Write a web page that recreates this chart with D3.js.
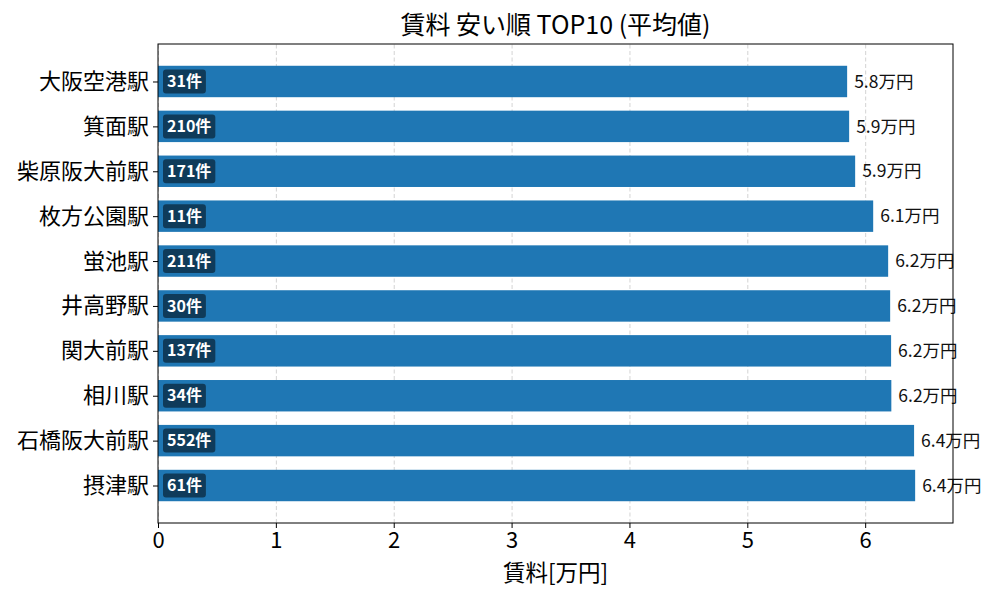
<!DOCTYPE html>
<html>
<head>
<meta charset="utf-8">
<script src="https://cdn.jsdelivr.net/npm/d3@7"></script>
<style>
  body { margin: 0; background: #fff; }
  svg text { font-family: "Noto Sans CJK JP", "Noto Sans", sans-serif; }
</style>
</head>
<body>
<div id="chart"></div>
<script>
// data
var stations = ["大阪空港駅","箕面駅","柴原阪大前駅","枚方公園駅","蛍池駅","井高野駅","関大前駅","相川駅","石橋阪大前駅","摂津駅"];
var rents = [5.847, 5.864, 5.915, 6.068, 6.195, 6.212, 6.220, 6.222, 6.415, 6.424];
var counts = [31, 210, 171, 11, 211, 30, 137, 34, 552, 61];
var xTicks = [0, 1, 2, 3, 4, 5, 6];

var w = 1000, h = 600;
var padL = 158, padR = 953, padT = 44, padB = 523;

var dataset = stations.map(function(s, i) {
    return { name: s, rent: rents[i], count: counts[i], idx: i };
});

var xScale = d3.scaleLinear()
    .domain([0, d3.max(rents) * 1.05])
    .range([padL, padR]);

// matplotlib-like band positions: bar height 0.7, 5% margins
var yScale = d3.scaleLinear()
    .domain([-0.835, 9.835])
    .range([padT, padB]);
var barH = yScale(0.35) - yScale(-0.35);

var svg = d3.select("#chart")
    .append("svg")
    .attr("width", w)
    .attr("height", h);

// vertical gridlines
svg.append("g")
    .attr("class", "grid")
    .attr("transform", "translate(0," + padB + ")")
    .call(d3.axisBottom(xScale).tickValues(xTicks).tickSize(-(padB - padT)).tickFormat(""))
    .call(function(g) {
        g.select(".domain").remove();
        g.selectAll("line")
            .attr("stroke", "#b0b0b0")
            .attr("stroke-opacity", 0.7)
            .attr("stroke-width", 0.8)
            .attr("stroke-dasharray", "4,2.5");
    });

// bars
svg.selectAll(".bar")
    .data(dataset)
    .enter()
    .append("rect")
    .attr("class", "bar")
    .attr("x", xScale(0))
    .attr("y", function(d) { return yScale(d.idx) - barH / 2; })
    .attr("width", function(d) { return xScale(d.rent) - xScale(0); })
    .attr("height", barH)
    .attr("fill", "#1f77b4");

// value labels
svg.selectAll(".val")
    .data(dataset)
    .enter()
    .append("text")
    .attr("class", "val")
    .attr("x", function(d) { return xScale(d.rent) + 7; })
    .attr("y", function(d) { return yScale(d.idx); })
    .attr("dy", "0.35em")
    .style("font-size", "17.5px")
    .attr("fill", "#111")
    .text(function(d) { return d3.format(".1f")(d.rent) + "万円"; });

// count labels with dark boxes
var cnt = svg.selectAll(".cnt")
    .data(dataset)
    .enter()
    .append("g")
    .attr("class", "cnt")
    .attr("transform", function(d) { return "translate(" + (xScale(0) + 9) + "," + yScale(d.idx) + ")"; });

cnt.append("text")
    .attr("x", 0)
    .attr("y", 0)
    .attr("dy", "0.35em")
    .style("font-size", "16px")
    .style("font-weight", "bold")
    .attr("fill", "#fff")
    .text(function(d) { return d.count + "件"; });

cnt.each(function() {
    var g = d3.select(this);
    var bb = g.select("text").node().getBBox();
    g.insert("rect", "text")
        .attr("x", bb.x - 4)
        .attr("y", -12)
        .attr("width", bb.width + 8)
        .attr("height", 24)
        .attr("rx", 3)
        .attr("fill", "rgba(0,0,0,0.5)");
});

// axes
var xAxis = d3.axisBottom(xScale).tickValues(xTicks).tickFormat(d3.format("d")).tickSize(5).tickPadding(4);
svg.append("g")
    .attr("transform", "translate(0," + padB + ")")
    .call(xAxis)
    .call(function(g) {
        g.select(".domain").remove();
        g.selectAll("text").style("font-size", "22px").attr("fill", "#000");
        g.selectAll("line").attr("stroke", "#000");
    });

var yAxis = d3.axisLeft(yScale)
    .tickValues(d3.range(stations.length))
    .tickFormat(function(i) { return stations[i]; })
    .tickSize(5)
    .tickPadding(4);
svg.append("g")
    .attr("transform", "translate(" + padL + ",0)")
    .call(yAxis)
    .call(function(g) {
        g.select(".domain").remove();
        g.selectAll("text").style("font-size", "22px").attr("fill", "#000");
        g.selectAll("line").attr("stroke", "#000");
    });

// frame
svg.append("rect")
    .attr("x", padL)
    .attr("y", padT)
    .attr("width", padR - padL)
    .attr("height", padB - padT)
    .attr("fill", "none")
    .attr("stroke", "#000")
    .attr("stroke-width", 1);

// title and x label
svg.append("text")
    .attr("x", (padL + padR) / 2)
    .attr("y", 25)
    .attr("dy", "0.35em")
    .attr("text-anchor", "middle")
    .style("font-size", "25px")
    .text("賃料 安い順 TOP10 (平均値)");

svg.append("text")
    .attr("x", (padL + padR) / 2)
    .attr("y", 573)
    .attr("dy", "0.35em")
    .attr("text-anchor", "middle")
    .style("font-size", "22.5px")
    .text("賃料[万円]");
</script>
</body>
</html>
